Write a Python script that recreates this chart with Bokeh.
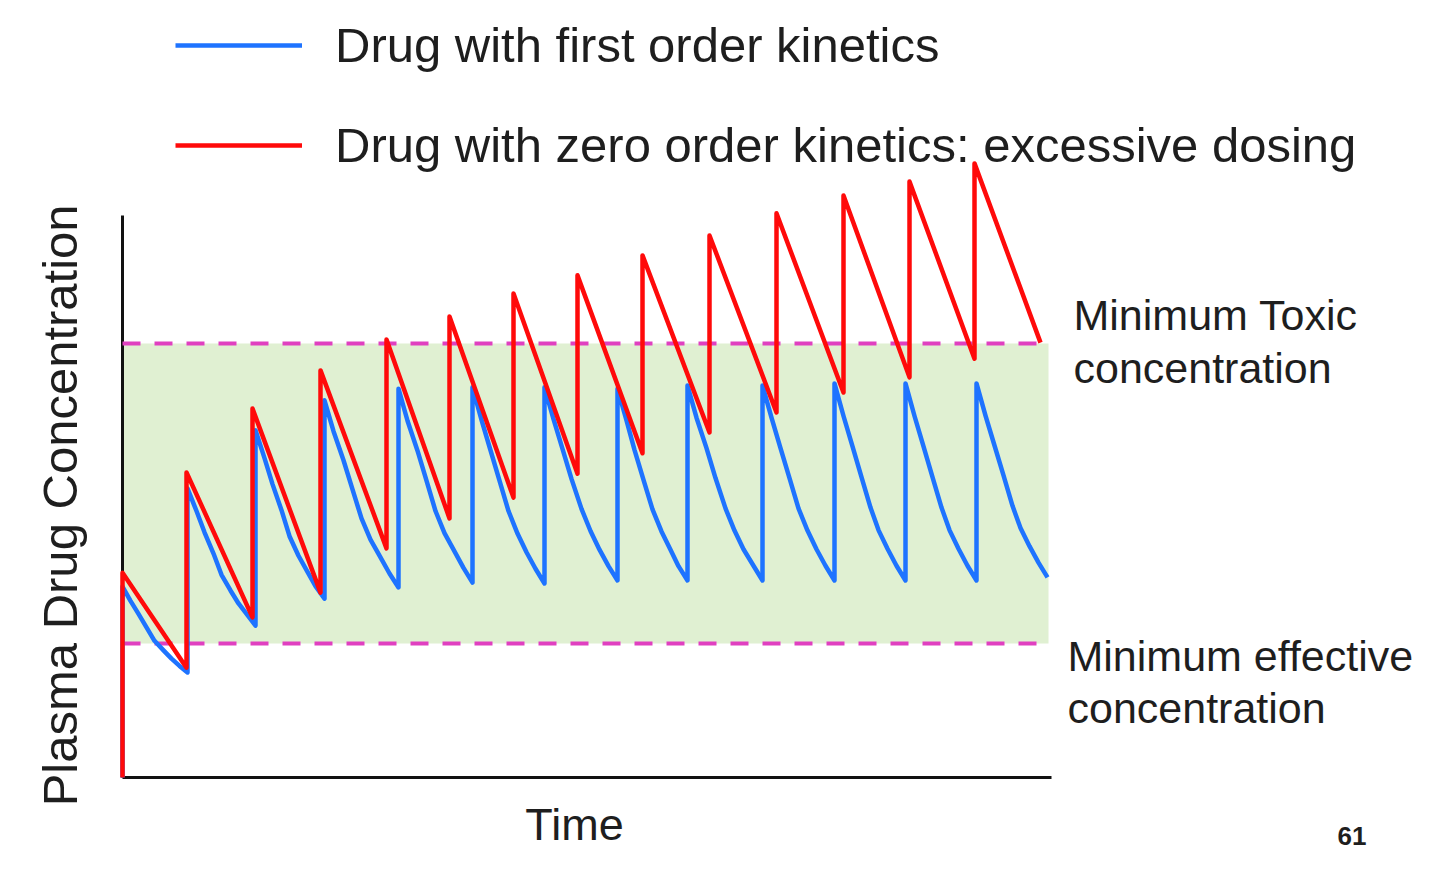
import math
from bokeh.plotting import figure
from bokeh.models import Range1d, Legend, LegendItem, Label, FixedTicker
from bokeh.embed import file_html
from bokeh.resources import INLINE

# ---------------- data (time in arbitrary units, concentration with MTC = 100) ----------------
time_start = 0.0
obs_end = 92.6
mec = 30.9   # minimum effective concentration
mtc = 100.0  # minimum toxic concentration

# first order kinetics (blue): points read along each dosing interval (one row per interval)
blue_time = [0,
    0, 0.8, 1.6, 2.4, 3.2, 4.1, 4.9, 5.7, 6.5,
    6.5, 7.4, 8.2, 9.1, 9.9, 10.8, 11.6, 12.5, 13.3,
    13.3, 14.2, 15.0, 15.9, 16.7, 17.6, 18.5, 19.3, 20.2,
    20.2, 21.1, 22.1, 23.0, 23.9, 24.8, 25.8, 26.7, 27.6,
    27.6, 28.5, 29.5, 30.4, 31.3, 32.2, 33.2, 34.1, 35.0,
    35.0, 35.9, 36.8, 37.7, 38.6, 39.5, 40.4, 41.3, 42.2,
    42.2, 43.1, 44.0, 44.9, 45.9, 46.8, 47.7, 48.6, 49.5,
    49.5, 50.4, 51.2, 52.1, 53.0, 53.9, 54.8, 55.6, 56.5,
    56.5, 57.4, 58.4, 59.3, 60.3, 61.2, 62.1, 63.1, 64.0,
    64.0, 64.9, 65.8, 66.7, 67.6, 68.5, 69.4, 70.3, 71.2,
    71.2, 72.1, 73.0, 73.9, 74.8, 75.6, 76.5, 77.4, 78.3,
    78.3, 79.2, 80.1, 81.0, 81.9, 82.7, 83.6, 84.5, 85.4,
    85.4, 86.3, 87.2, 88.1, 89.0, 89.8, 90.7, 91.6, 92.5,
]
blue_conc = [0,
    44.0, 40.7, 37.7, 34.6, 31.5, 29.3, 27.4, 25.7, 24.2,
    66.6, 61.4, 56.5, 51.6, 46.7, 43.1, 40.1, 37.4, 35.0,
    80.0, 73.6, 67.6, 61.6, 55.6, 51.1, 47.4, 44.1, 41.2,
    86.9, 79.8, 73.1, 66.4, 59.7, 54.8, 50.7, 47.0, 43.8,
    89.6, 82.2, 75.3, 68.4, 61.4, 56.3, 52.1, 48.3, 44.9,
    89.9, 82.4, 75.4, 68.4, 61.4, 56.2, 51.9, 48.1, 44.7,
    89.9, 82.6, 75.7, 68.8, 61.9, 56.8, 52.5, 48.7, 45.4,
    89.6, 82.3, 75.5, 68.6, 61.8, 56.7, 52.5, 48.7, 45.4,
    90.3, 82.9, 75.9, 69.0, 62.0, 56.9, 52.6, 48.8, 45.4,
    90.3, 82.9, 75.9, 69.0, 62.0, 56.9, 52.6, 48.8, 45.4,
    90.8, 83.3, 76.3, 69.2, 62.2, 57.0, 52.7, 48.8, 45.4,
    90.8, 83.3, 76.3, 69.2, 62.2, 57.0, 52.7, 48.8, 45.4,
    90.8, 83.4, 76.5, 69.6, 62.6, 57.5, 53.3, 49.5, 46.1,
]

# zero order kinetics with excessive dosing (red): linear decline between doses
red_dose_time = [0, 6.4, 13.0, 19.8, 26.4, 32.7, 39.1, 45.5, 52.0, 58.7, 65.4, 72.1, 78.7, 85.2]
red_peak = [47.2, 70.3, 85.0, 93.8, 100.9, 106.2, 111.5, 115.7, 120.3, 124.9, 130.0, 134.1, 137.3, 141.5]
red_trough = [25.3, 36.9, 42.6, 52.8, 59.7, 64.5, 70.0, 74.7, 79.5, 84.1, 88.7, 92.2, 96.5, 100.2]
red_end_time = 91.8

legend_labels = ["Drug with first order kinetics", "Drug with zero order kinetics: excessive dosing"]
threshold_labels = [["Minimum Toxic", "concentration"], ["Minimum effective", "concentration"]]
x_label = "Time"
y_label = "Plasma Drug Concentration"
page_number = "61"

# ---------------- styles ----------------
BLUE = "#1E73FF"
RED = "#FF0A0A"
MAGENTA = "#E040C0"
GREEN = "#E0F0D2"
TEXT = "#1E1E1E"
FONT = "Liberation Sans"

# build red path from doses
red_x = [time_start]
red_y = [0.0]
next_times = red_dose_time[1:] + [red_end_time]
for t, pk, nt, tr in zip(red_dose_time, red_peak, next_times, red_trough):
    red_x += [t, nt]
    red_y += [pk, tr]

W, H = 1424, 853
p = figure(width=W, height=H, output_backend="svg", toolbar_location=None,
           x_range=Range1d(-12.2, 130.2), y_range=Range1d(-17.51, 179.03),
           min_border=0, min_border_left=0, min_border_right=0,
           min_border_top=0, min_border_bottom=0)
p.xgrid.visible = False
p.ygrid.visible = False
p.outline_line_color = None
p.background_fill_color = "white"
p.border_fill_color = "white"

for ax in (p.xaxis[0], p.yaxis[0]):
    ax.ticker = FixedTicker(ticks=[])
    ax.major_tick_line_color = None
    ax.minor_tick_line_color = None
    ax.major_label_text_font_size = "0px"
    ax.axis_line_width = 3
    ax.axis_line_color = "#111111"
    ax.fixed_location = 0
    ax.level = "underlay"
p.xaxis[0].bounds = (0, 92.9)
p.yaxis[0].bounds = (0, 129.5)

# therapeutic window
p.quad(left=[time_start], right=[obs_end], bottom=[mec], top=[mtc],
       fill_color=GREEN, line_color=None, level="image")
p.segment(x0=[time_start, time_start], x1=[obs_end, obs_end], y0=[mec, mtc], y1=[mec, mtc],
          line_color=MAGENTA, line_width=4, line_dash="18 14")

r_blue = p.line(blue_time, blue_conc, line_color=BLUE, line_width=4.5, line_join="round")
r_red = p.line(red_x, red_y, line_color=RED, line_width=4.5, line_join="round")

legend = Legend(items=[LegendItem(label=legend_labels[0], renderers=[r_blue]),
                       LegendItem(label=legend_labels[1], renderers=[r_red])],
                location=(175, 673), glyph_width=127, glyph_height=70, label_height=70,
                label_standoff=33, spacing=30, padding=0, margin=0,
                border_line_color=None, background_fill_alpha=0,
                label_text_font=FONT, label_text_font_size="49px", label_text_color=TEXT)
p.add_layout(legend)

# axis titles
p.add_layout(Label(x=-6.3, y=62.7, text=y_label, angle=math.pi / 2, text_align="center",
                   text_baseline="middle", text_font=FONT, text_font_size="49px", text_color=TEXT))
p.add_layout(Label(x=45.2, y=-10.8, text=x_label, text_align="center", text_baseline="middle",
                   text_font=FONT, text_font_size="45px", text_color=TEXT))

# threshold labels
for (l1, l2), xx, yy in zip(threshold_labels, [95.1, 94.5], [106.5, 28.0]):
    p.add_layout(Label(x=xx, y=yy, text=l1, text_baseline="alphabetic", text_font=FONT,
                       text_font_size="43px", text_color=TEXT))
    p.add_layout(Label(x=xx, y=yy - 12.1, text=l2, text_baseline="alphabetic", text_font=FONT,
                       text_font_size="43px", text_color=TEXT))

p.add_layout(Label(x=121.5, y=-13.4, text=page_number, text_baseline="alphabetic", text_font=FONT,
                   text_font_size="26px", text_font_style="bold", text_color=TEXT))

open("out.html", "w").write(file_html(p, INLINE))
